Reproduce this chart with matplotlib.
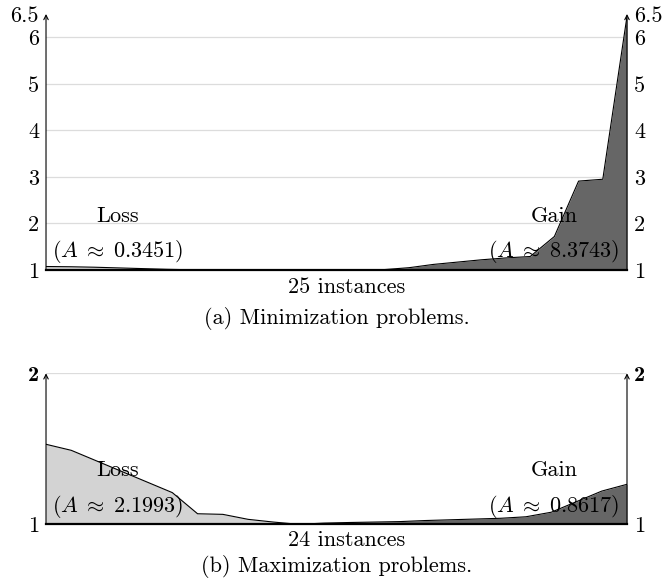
import matplotlib
matplotlib.use('Agg')
import matplotlib.pyplot as plt
import numpy as np

plt.rcParams['font.family'] = 'cmr10'
plt.rcParams['mathtext.fontset'] = 'cm'
plt.rcParams['axes.formatter.use_mathtext'] = True

# ------------------------------------------------------------------------------
# (a) minimization: 25 instances, sorted ratio (loss first, then gain)
min_ratio = [1.075, 1.07, 1.06, 1.045, 1.03, 1.015, 1.005, 1.0, 1.0, 1.0,
             1.0, 1.0, 1.0, 1.0, 1.01, 1.05, 1.12, 1.17, 1.22, 1.26,
             1.29, 1.72, 2.91, 2.95, 6.45]
min_split = 12
min_ticks = [1, 2, 3, 4, 5, 6, 6.5]
min_grid  = [2, 3, 4, 5, 6]
min_area  = ['0.3451', '8.3743']

# (b) maximization: 24 instances
max_ratio = [1.53, 1.49, 1.42, 1.35, 1.28, 1.21, 1.07, 1.066, 1.033, 1.015,
             1.0, 1.008, 1.012, 1.015, 1.018, 1.025, 1.03, 1.035, 1.04, 1.05,
             1.08, 1.15, 1.22, 1.265]
max_split = 10
max_ticks = [1, 2]
max_grid  = [2]
max_area  = ['2.1993', '0.8617']

LOSS_C = '#d3d3d3'
GAIN_C = '#666666'
FS     = 16


# ------------------------------------------------------------------------------
#
def panel(ax, ratio, split, ticks, grid, area, ytop, caption, ylab, ycap,
          ytxt, yarea, bold_top=False):

    y = np.array(ratio)
    x = np.arange(len(y))
    n = len(y) - 1

    for g in grid:
        ax.axhline(g, color='#dcdcdc', lw=0.9, zorder=0)

    ax.fill_between(x[:split + 1], 1, y[:split + 1], color=LOSS_C, lw=0, zorder=1)
    ax.fill_between(x[split:], 1, y[split:], color=GAIN_C, lw=0, zorder=1)
    ax.plot(x, y, color='black', lw=0.8, zorder=2)

    ax.set_xlim(0, n)
    ax.set_ylim(1, ytop)
    for s in ax.spines.values():
        s.set_visible(False)
    ax.axhline(1, color='black', lw=1.6, zorder=3, clip_on=False)

    for xx in [0, n]:
        ax.annotate('', xy=(xx, ytop), xytext=(xx, 1),
                    arrowprops=dict(arrowstyle='->', lw=0.8, color='black',
                                    shrinkA=0, shrinkB=0, mutation_scale=8),
                    annotation_clip=False, zorder=4)

    ax.set_xticks([])
    ax.set_yticks(ticks)
    ax.set_yticklabels(['%g' % t for t in ticks], fontsize=FS)
    ax.tick_params(axis='y', length=0, pad=5, labelleft=True, labelright=True)
    if bold_top:
        top = ax.yaxis.get_major_ticks()[-1]
        top.label1.set_fontweight('bold')
        top.label2.set_fontweight('bold')
        top.label1.set_fontfamily('cmb10')
        top.label2.set_fontfamily('cmb10')

    ax.text(0.123, ytxt, 'Loss', transform=ax.transAxes, ha='center',
            va='center', fontsize=FS, zorder=5)
    ax.text(0.123, yarea, r'$(A \;\approx\; %s)$' % area[0],
            transform=ax.transAxes, ha='center', va='center', fontsize=FS,
            zorder=5)
    ax.text(0.874, ytxt, 'Gain', transform=ax.transAxes, ha='center',
            va='center', fontsize=FS, zorder=5)
    ax.text(0.874, yarea, r'$(A \;\approx\; %s)$' % area[1],
            transform=ax.transAxes, ha='center', va='center', fontsize=FS,
            zorder=5)

    ax.text(0.518, ylab, '%d instances' % len(y), transform=ax.transAxes,
            ha='center', va='center', fontsize=FS)
    ax.text(0.5, ycap, caption, transform=ax.transAxes,
            ha='center', va='center', fontsize=FS)


def main():

    fig = plt.figure(figsize=(6.63, 5.88), dpi=100)

    ax1 = fig.add_axes([0.0694, 0.5408, 0.8763, 0.4354])
    panel(ax1, min_ratio, min_split, min_ticks, min_grid, min_area, 6.5,
          '(a) Minimization problems.', -0.066, -0.19, 0.211, 0.0715)

    ax2 = fig.add_axes([0.0694, 0.1083, 0.8763, 0.2568])
    panel(ax2, max_ratio, max_split, max_ticks, max_grid, max_area, 2,
          '(b) Maximization problems.', -0.104, -0.281, 0.357, 0.121,
          bold_top=True)

    fig.savefig('out.png', dpi=100)


# ------------------------------------------------------------------------------
#
if __name__ == '__main__':

    main()

# ------------------------------------------------------------------------------
